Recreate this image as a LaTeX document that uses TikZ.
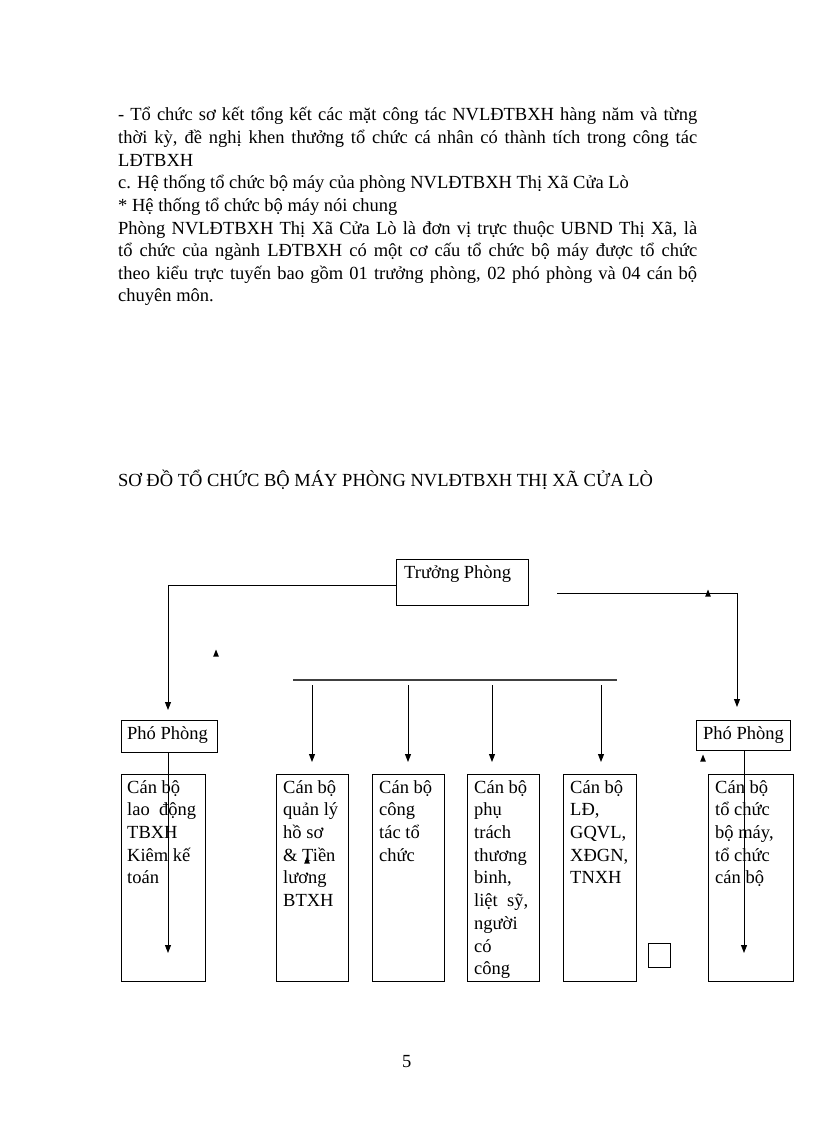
\documentclass[tikz,border=0pt]{standalone}
\usepackage{fontspec}
\setmainfont{Liberation Serif}
\usetikzlibrary{arrows.meta}
\begin{document}
\begin{tikzpicture}[x=1pt,y=-1pt,
  every node/.style={font=\fontsize{18.5}{22.7}\selectfont, inner sep=0pt},
  line/.style={anchor=base west},
  cbox/.style={draw, line width=0.9pt, anchor=north west},
  btext/.style={anchor=north west, align=left},
  arr/.style={line width=0.9pt, -{Triangle[width=6pt,length=8pt]}},
  conn/.style={line width=0.9pt},
  bus/.style={line width=1.8pt, black!75},
  stray/.style={fill=black}]
\useasboundingbox (0,0) rectangle (816,1123);

% paragraph text
\node[line] (p1) at (118,121) {\makebox[579pt][s]{- Tổ chức sơ kết tổng kết các mặt công tác NVLĐTBXH hàng năm và từng}};
\node[line] (p2) at (118,143.6) {\makebox[579pt][s]{thời kỳ, đề nghị khen thưởng tổ chức cá nhân có thành tích trong công tác}};
\node[line] (p3) at (118,166.2) {LĐTBXH};
\node[line] (p4) at (118,188.8) {c. Hệ thống tổ chức bộ máy của phòng NVLĐTBXH Thị Xã Cửa Lò};
\node[line] (p5) at (118,211.4) {* Hệ thống tổ chức bộ máy nói chung};
\node[line] (p6) at (118,234) {\makebox[579pt][s]{Phòng NVLĐTBXH Thị Xã Cửa Lò là đơn vị trực thuộc UBND Thị Xã, là}};
\node[line] (p7) at (118,256.6) {\makebox[579pt][s]{tổ chức của ngành LĐTBXH có một cơ cấu tổ chức bộ máy được tổ chức}};
\node[line] (p8) at (118,279.2) {\makebox[579pt][s]{theo kiểu trực tuyến bao gồm 01 trưởng phòng, 02 phó phòng và 04 cán bộ}};
\node[line] (p9) at (118,301.8) {chuyên môn.};

% title
\node[line] (title) at (118,486) {SƠ ĐỒ TỔ CHỨC BỘ MÁY PHÒNG NVLĐTBXH THỊ XÃ CỬA LÒ};

% Truong phong
\node[cbox, minimum width=132pt, minimum height=46pt] (tp) at (396,559) {};
\node[line] (tpt) at (404,578) {Trưởng Phòng};

% Pho phong boxes
\node[cbox, minimum width=96pt, minimum height=32pt] (pp1) at (121,720) {};
\node[line] (pp1t) at (127,739) {Phó Phòng};
\node[cbox, minimum width=94pt, minimum height=30pt] (pp2) at (696,720) {};
\node[line] (pp2t) at (703,739) {Phó Phòng};

% staff boxes
\node[cbox, minimum width=84pt, minimum height=207pt] (b1) at (121,774) {};
\node[cbox, minimum width=72pt, minimum height=207pt] (b2) at (276,774) {};
\node[cbox, minimum width=72pt, minimum height=207pt] (b3) at (372,774) {};
\node[cbox, minimum width=72pt, minimum height=207pt] (b4) at (467,774) {};
\node[cbox, minimum width=73pt, minimum height=207pt] (b5) at (563,774) {};
\node[cbox, minimum width=85pt, minimum height=207pt] (b6) at (708,774) {};
\node[cbox, minimum width=22pt, minimum height=24pt] (sq) at (648,943) {};

\node[btext] (t1) at (127,777) {\strut Cán bộ\\lao\ \ động\\TBXH\\Kiêm kế\\toán};
\node[btext] (t2) at (283,777) {\strut Cán bộ\\quản lý\\hồ sơ\\\& Tiền\\lương\\BTXH};
\node[btext] (t3) at (379,777) {\strut Cán bộ\\công\\tác tổ\\chức};
\node[btext] (t4) at (474,777) {\strut Cán bộ\\phụ\\trách\\thương\\binh,\\liệt\ \ sỹ,\\người\\có\\công};
\node[btext] (t5) at (570,777) {\strut Cán bộ\\LĐ,\\GQVL,\\XĐGN,\\TNXH};
\node[btext] (t6) at (715,777) {\strut Cán bộ\\tổ chức\\bộ máy,\\tổ chức\\cán bộ};

% connectors
\coordinate (tpL) at (396,585);
\coordinate (lTip) at (168,710);
\draw[arr] (tpL) -| (lTip);
\coordinate (rA) at (557,593);
\coordinate (rTip) at (737,707);
\draw[arr] (rA) -| (rTip);

\coordinate (l2a) at (168,752);
\coordinate (l2b) at (168,953);
\draw[arr] (l2a) -- (l2b);
\coordinate (r2a) at (744,750);
\coordinate (r2b) at (744,953);
\draw[arr] (r2a) -- (r2b);

\coordinate (busL) at (293,680);
\coordinate (busR) at (617,680);
\draw[bus] (busL) -- (busR);
\foreach \x/\n in {312/a,408/b,492/c,601/d}{
  \coordinate (s\n) at (\x,685);
  \coordinate (e\n) at (\x,762);
  \draw[arr] (s\n) -- (e\n);
}

% stray arrowheads
\foreach \x/\y in {216/653,708/593,703/758,307/860}{
  \fill[stray] (\x-2.8,\y+3.5) -- (\x+2.8,\y+3.5) -- (\x,\y-3.5) -- cycle;
}

% page number
\node[line] (pg) at (402,1067) {5};
\end{tikzpicture}
\end{document}
